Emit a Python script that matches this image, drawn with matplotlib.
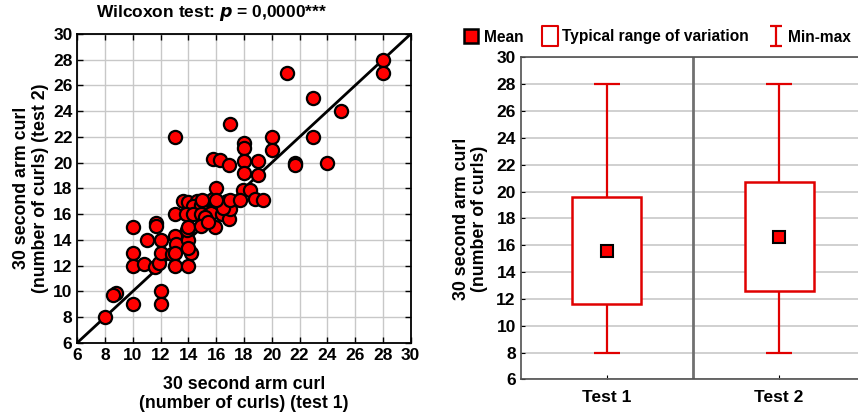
import matplotlib
matplotlib.use("Agg")
import matplotlib.pyplot as plt
from matplotlib.lines import Line2D
from matplotlib.path import Path
import numpy as np

plt.rcParams['font.family'] = ['Liberation Sans', 'DejaVu Sans']
plt.rcParams['font.weight'] = 'bold'

# ---- data: scatter (test 1 vs test 2) ----
test1 = [8, 8.8, 8.6, 10, 12, 12, 10, 10, 10, 10.8, 11, 11.7, 11.7, 11.6, 11.9,
         12, 12, 12.8, 13, 13, 13, 13.1, 13, 13, 14, 14.2, 14, 13.9, 14,
         13.6, 14, 14.6, 15.1, 15.8, 14.3, 14.9,
         13.8, 14.3, 14.9, 15.6, 16.4, 15.2,
         14, 14.9, 15.9, 16.9, 15.4,
         16, 16, 16.8, 17, 16.5, 15.0, 16.0, 17.0,
         17, 15.8, 16.3, 16.9,
         18, 18, 18, 19, 18, 19,
         17.9, 18.4, 17.7, 18.8, 19.4,
         20, 20, 21.1, 21.7, 21.7,
         23, 23, 25, 24, 28, 28]
test2 = [8, 9.9, 9.7, 9, 10, 9, 15, 13, 12, 12.1, 14, 15.3, 15.1, 11.9, 12.2,
         14, 13, 12.9, 22, 16, 14.3, 13.7, 13, 12, 12, 13, 14, 14.8, 13.4,
         17, 16.9, 17, 17, 17.2, 16.6, 16.7,
         16, 16, 16, 16.1, 16, 15.8,
         15, 15.1, 15, 15.6, 15.4,
         18, 17, 17, 16.4, 16.5, 17.1, 17.1, 17.1,
         23, 20.3, 20.2, 19.8,
         21.5, 21.1, 20.1, 20.1, 19.2, 19,
         17.9, 17.9, 17.1, 17.2, 17.1,
         22, 21, 27, 20, 19.8,
         25, 22, 24, 20, 28, 27]

# ---- data: summary per test ----
tests = ["Test 1", "Test 2"]
means = [15.6, 16.6]
q_low = [11.6, 12.6]
q_high = [19.6, 20.7]
mins = [8, 8]
maxs = [28, 28]

ticks = list(range(6, 31, 2))
LBL = 12.8
TCK = 12.5

fig = plt.figure(figsize=(8.58, 4.19), dpi=100)

# ---------- left: scatter ----------
ax1 = fig.add_axes([0.0901, 0.1821, 0.3886, 0.7368])
ax1.set_xlim(6, 30)
ax1.set_ylim(6, 30)
ax1.set_xticks(ticks)
ax1.set_yticks(ticks)
ax1.grid(True, color='#c8c8c8', lw=1)
ax1.set_axisbelow(True)
ax1.plot([6, 30], [6, 30], color='black', lw=2, zorder=2)
ax1.scatter(test1, test2, s=90, facecolor='#ff0000', edgecolor='black',
            linewidths=1.6, zorder=3)
ax1.tick_params(direction='in', length=4, labelsize=TCK, width=1,
                top=True, right=True)
for sp in ax1.spines.values():
    sp.set_linewidth(1.3)
ax1.set_xlabel("30 second arm curl\n(number of curls) (test 1)", fontsize=LBL,
               fontweight='bold', labelpad=10, linespacing=1.1)
ax1.set_ylabel("30 second arm curl\n(number of curls) (test 2)", fontsize=LBL,
               fontweight='bold', labelpad=3, linespacing=1.1)
fig.text(212 / 858, 1 - 13 / 419,
         r"Wilcoxon test: $\mathbfit{p}$ = 0,0000***",
         ha='center', va='center', fontsize=12.5, fontweight='bold')

# ---------- right: summary ----------
ax2 = fig.add_axes([0.6069, 0.0947, 0.4016, 0.7681])
x = np.arange(len(tests))
ax2.set_xlim(-0.5, 1.5)
ax2.set_ylim(6, 30)
ax2.set_yticks(ticks)
ax2.set_xticks(x)
ax2.set_xticklabels(tests)
ax2.yaxis.grid(True, color='#c8c8c8', lw=1.2)
ax2.set_axisbelow(True)
ax2.axvline(0.5, color='#707070', lw=2, zorder=1)
ax2.tick_params(direction='in', length=3, labelsize=TCK)
ax2.tick_params(axis='x', length=3, pad=8)
for sp in ax2.spines.values():
    sp.set_linewidth(1.2)
    sp.set_color('#505050')

red = '#e00000'
ax2.vlines(x, mins, q_low, color=red, lw=1.6, zorder=3)
ax2.vlines(x, q_high, maxs, color=red, lw=1.6, zorder=3)
ax2.hlines(mins, x - 0.075, x + 0.075, color=red, lw=1.6, zorder=3)
ax2.hlines(maxs, x - 0.075, x + 0.075, color=red, lw=1.6, zorder=3)
ax2.bar(x, np.array(q_high) - np.array(q_low), bottom=q_low, width=0.4,
        facecolor='white', edgecolor=red, lw=1.8, zorder=3)
ax2.plot(x, means, 's', ms=8, mfc='#ff0000', mec='black', mew=1.5, zorder=4)
ax2.set_ylabel("30 second arm curl\n(number of curls)", fontsize=LBL,
               fontweight='bold', labelpad=6, linespacing=1.1)

ibeam = Path([(-0.6, 1), (0.6, 1), (0, 1), (0, -1), (-0.6, -1), (0.6, -1)],
             [Path.MOVETO, Path.LINETO, Path.MOVETO, Path.LINETO,
              Path.MOVETO, Path.LINETO])
tall_rect = Path([(-0.75, -1), (0.75, -1), (0.75, 1), (-0.75, 1), (-0.75, -1)],
                 [Path.MOVETO, Path.LINETO, Path.LINETO, Path.LINETO,
                  Path.CLOSEPOLY])
handles = [
    Line2D([], [], ls='none', marker='s', ms=10, mfc='#ff0000', mec='black', mew=1.8),
    Line2D([], [], ls='none', marker=tall_rect, ms=15, mfc='white', mec=red, mew=1.5),
    Line2D([], [], ls='none', marker=ibeam, ms=15, mec=red, mew=1.6, mfc='none'),
]
fig.legend(handles, ["Mean", "Typical range of variation", "Min-max"],
           loc='center', bbox_to_anchor=(658 / 858, 1 - 37 / 419), ncol=3,
           frameon=False, fontsize=11.2, handlelength=0.8, handletextpad=0.4,
           columnspacing=1.3)

fig.savefig("out.png", dpi=100)
